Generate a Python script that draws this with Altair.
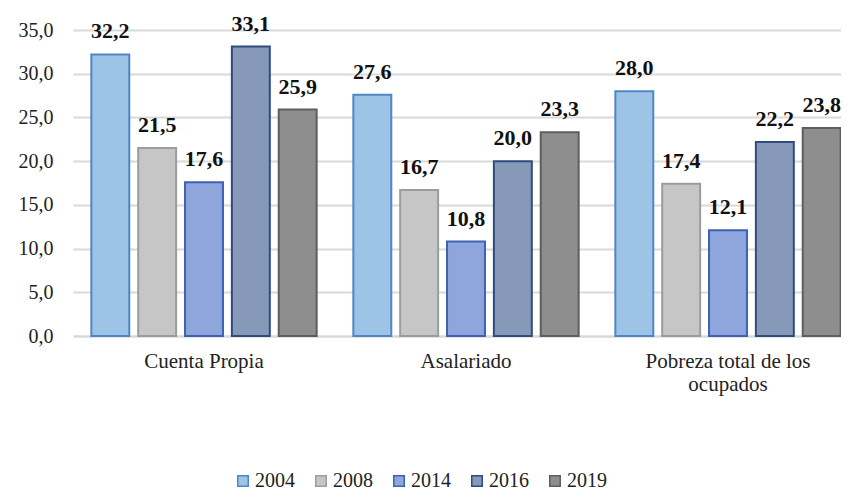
import altair as alt
import pandas as pd

categories = ["Cuenta Propia", "Asalariado", "Pobreza total de los ocupados"]
years = ["2004", "2008", "2014", "2016", "2019"]
values = {
    "Cuenta Propia": [32.2, 21.5, 17.6, 33.1, 25.9],
    "Asalariado": [27.6, 16.7, 10.8, 20.0, 23.3],
    "Pobreza total de los ocupados": [28.0, 17.4, 12.1, 22.2, 23.8],
}
fill_colors = ["#9DC3E6", "#C6C6C6", "#8EA6DC", "#8699B9", "#8E8E8E"]
stroke_colors = ["#4F86C6", "#9C9C9C", "#3D62B3", "#2E4D7E", "#5E5E5E"]

rows = []
for c in categories:
    for y, v in zip(years, values[c]):
        rows.append({"cat": c, "year": y, "value": v,
                     "label": f"{v:.1f}".replace(".", ",")})
df = pd.DataFrame(rows)

FONT = "Liberation Serif"

x = alt.X("cat:N", sort=categories, title=None,
          scale=alt.Scale(paddingInner=0.14, paddingOuter=0.07, range=[0, 786]),
          axis=alt.Axis(labelAngle=0, labelFont=FONT, labelFontSize=21, labelColor="#222222",
                        ticks=False, domain=True, domainColor="#D9D9D9", domainWidth=2,
                        labelPadding=14, labelLineHeight=23,
                        labelExpr="datum.value == 'Pobreza total de los ocupados' ? ['Pobreza total de los', 'ocupados'] : datum.value"))
xo = alt.XOffset("year:N", sort=years,
                 scale=alt.Scale(paddingInner=0.19, paddingOuter=0.0))

base = alt.Chart(df)

bars = base.mark_bar(strokeWidth=2).encode(
    x=x, xOffset=xo,
    y=alt.Y("value:Q", title=None,
            scale=alt.Scale(domain=[0, 35], nice=False),
            axis=alt.Axis(values=[0, 5, 10, 15, 20, 25, 30, 35], labelFont=FONT, labelFontSize=20,
                          labelColor="#222222", ticks=False, domain=False,
                          gridColor="#D9D9D9", gridWidth=2, labelPadding=20,
                          labelExpr="replace(format(datum.value, '.1f'), '.', ',')")),
    fill=alt.Fill("year:N", sort=years, scale=alt.Scale(domain=years, range=fill_colors),
                  legend=alt.Legend(title=None, orient="none", direction="horizontal",
                                    legendX=160, legendY=441, symbolType="square",
                                    symbolSize=110, symbolStrokeWidth=1.5, labelFont=FONT,
                                    labelFontSize=20, labelColor="#222222", labelOffset=2,
                                    columnPadding=16)),
    stroke=alt.Stroke("year:N", sort=years, scale=alt.Scale(domain=years, range=stroke_colors),
                      legend=None),
)

labels = base.mark_text(font=FONT, fontSize=22, fontWeight="bold", color="#111111",
                        baseline="alphabetic", dy=-16).encode(
    x=x, xOffset=xo,
    y=alt.Y("value:Q"),
    text="label:N",
)

chart = alt.layer(bars, labels).properties(
    width=768, height=306,
    autosize=alt.AutoSizeParams(type="none"),
    padding={"left": 65, "top": 22, "right": 0, "bottom": 155},
).configure_view(stroke=None)

chart.save("out.html", embed_options={"renderer": "svg", "actions": False})
